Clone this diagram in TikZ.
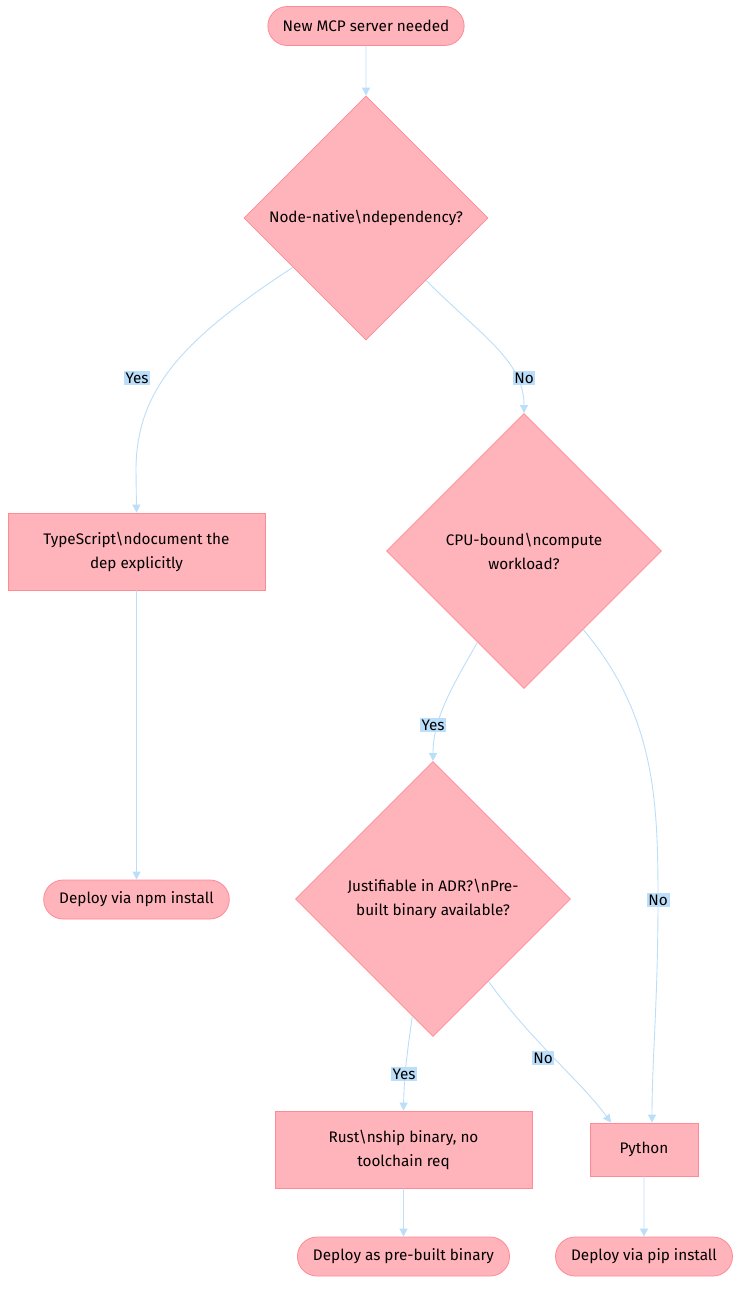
\documentclass[tikz,border=0pt]{standalone}
\usepackage{fontspec}
\setmainfont{Fira Sans}
\usetikzlibrary{shapes.geometric,shapes.misc,arrows.meta}
\definecolor{nodefill}{HTML}{FFB3BA}
\definecolor{nodeline}{HTML}{FF8A95}
\definecolor{edgeblue}{HTML}{BBDEFB}
\tikzset{
	base/.style={fill=nodefill,draw=nodeline,line width=0.8pt,font=\fontsize{15.3}{24}\selectfont,align=center,inner sep=0pt},
	terminal/.style={base,rounded rectangle,minimum height=39,inner xsep=14pt},
	process/.style={base,rectangle,minimum height=77},
	decision/.style={base,diamond,minimum width=#1,minimum height=#1},
	flow/.style={edgeblue,line width=0.9pt,-{Triangle[length=8pt,width=8pt]}},
	answer/.style={fill=edgeblue,font=\fontsize{15.3}{17}\selectfont,inner sep=1.8pt}
}
\begin{document}
\begin{tikzpicture}[x=1pt,y=-1pt]
	\useasboundingbox (0,0) rectangle (747,1298);
	% nodes
	\node[terminal] (start) at (366,26) {New MCP server needed};
	\node[decision=244] (native) at (366,218) {Node-native\textbackslash ndependency?};
	\node[process,minimum width=257] (ts) at (136.5,551.5) {TypeScript\textbackslash ndocument the\\dep explicitly};
	\node[decision=275] (cpu) at (524,551) {CPU-bound\textbackslash ncompute\\workload?};
	\node[terminal] (npm) at (136.5,899.5) {Deploy via npm install};
	\node[decision=275] (adr) at (433,899) {Justifiable in ADR?\textbackslash nPre-\\built binary available?};
	\node[process,minimum width=257] (rust) at (403.5,1149.5) {Rust\textbackslash nship binary, no\\toolchain req};
	\node[process,minimum width=108,minimum height=53] (py) at (644,1149.5) {Python};
	\node[terminal] (bin) at (403.5,1256.5) {Deploy as pre-built binary};
	\node[terminal] (pip) at (644,1256.5) {Deploy via pip install};
	% connectors
	\draw[flow] (start) -- (native);
	\draw[flow] (native.-146) .. controls (190,335) and (136,385) .. (136,470) -- (ts.north);
	\draw[flow] (native.-46) .. controls (480,335) and (524,360) .. (cpu.north);
	\draw[flow] (ts) -- (npm);
	\draw[flow] (cpu.-117) .. controls (450,690) and (433,720) .. (adr.north);
	\draw[flow] (cpu.-53) .. controls (655,715) and (658,800) .. (658,900) .. controls (658,1000) and (652,1060) .. ([xshift=8]py.north);
	\draw[flow] (adr.-100) .. controls (406,1060) and (404,1080) .. (rust.north);
	\draw[flow] (adr.-56) .. controls (530,1040) and (580,1080) .. ([xshift=-33]py.north);
	\draw[flow] (rust) -- (bin);
	\draw[flow] (py) -- (pip);
	% answers
	\node[answer] (yes1) at (137,378) {Yes};
	\node[answer] (no1) at (524,378) {No};
	\node[answer] (yes2) at (433,725) {Yes};
	\node[answer] (no2) at (658,900) {No};
	\node[answer] (yes3) at (404,1074) {Yes};
	\node[answer] (no3) at (543,1058) {No};
\end{tikzpicture}
\end{document}
